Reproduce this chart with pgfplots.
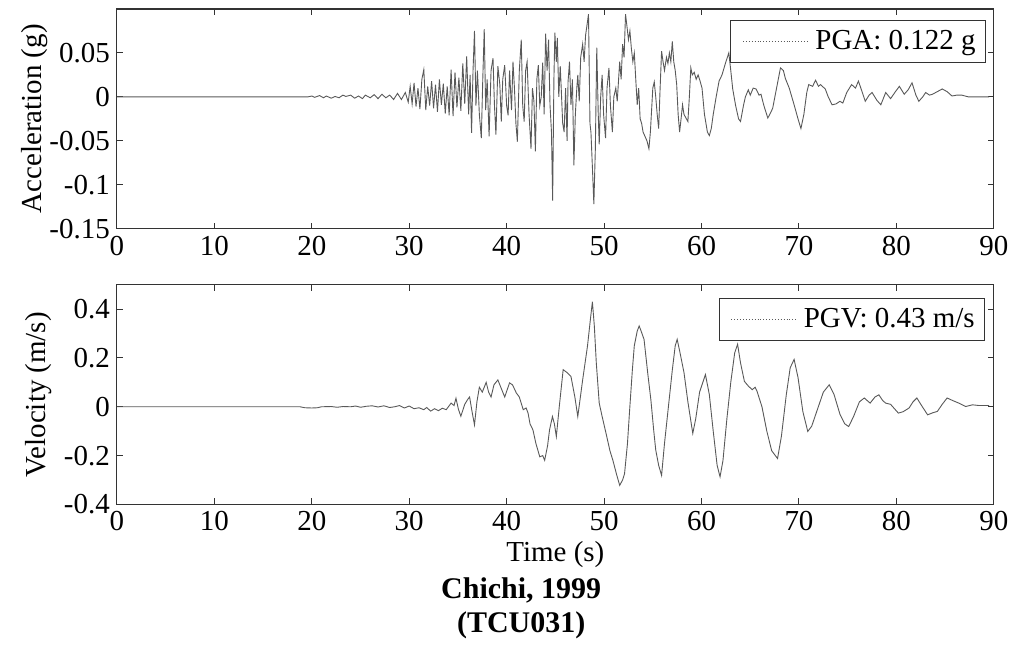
\documentclass[border=0pt]{standalone}
\usepackage{fontspec}
\setmainfont{Liberation Serif}
\usepackage{pgfplots}
\pgfplotsset{compat=1.18}
\pgfplotstableread{
t a
0 0
19.6 0
20.0 0.001
20.3 -0.0005
20.8 0.0015
21.2 -0.001
21.5 0.001
22.0 -0.0015
22.4 0.0005
22.8 -0.001
23.2 0.002
23.5 0.0005
24.0 0.002
24.4 -0.0015
24.8 0.001
25.2 -0.002
25.5 0.002
26.0 -0.001
26.4 0.0025
26.8 -0.002
27.2 0.003
27.6 -0.001
28.0 0.002
28.4 -0.003
28.8 0.004
29.2 -0.003
29.6 0.005
29.9 -0.006
30.1 0.012
30.3 -0.008
30.5 0.016
30.7 -0.011
30.9 0.010
31.1 -0.014
31.3 0.020
31.5 0.031
31.7 -0.015
31.9 0.012
32.1 -0.010
32.3 0.018
32.5 -0.013
32.7 0.014
32.9 -0.017
33.1 0.020
33.3 -0.009
33.5 0.015
33.7 -0.019
33.9 0.012
34.1 -0.021
34.3 0.031
34.5 -0.022
34.7 0.028
34.9 -0.012
35.1 0.022
35.3 -0.016
35.5 0.038
35.7 -0.008
35.9 0.046
36.1 -0.020
36.25 0.025
36.4 -0.041
36.55 0.030
36.7 0.075
36.85 -0.010
37.0 0.030
37.2 -0.020
37.4 -0.047
37.55 0.020
37.7 0.077
37.85 -0.015
38.0 0.020
38.2 -0.045
38.4 0.030
38.6 0.044
38.75 -0.010
38.9 -0.043
39.1 0.035
39.3 0.014
39.45 -0.028
39.6 0.020
39.8 0.036
40.0 -0.010
40.15 -0.021
40.3 0.030
40.5 -0.015
40.65 0.040
40.8 0.010
40.95 -0.030
41.1 -0.051
41.3 0.030
41.5 0.065
41.65 -0.010
41.8 -0.028
41.95 0.030
42.1 0.040
42.3 -0.020
42.5 -0.059
42.65 0.010
42.8 -0.005
42.95 -0.062
43.1 0.020
43.25 0.036
43.4 -0.010
43.55 0.000
43.7 0.039
43.85 -0.020
44.0 0.072
44.15 0.030
44.3 0.065
44.45 -0.009
44.6 -0.040
44.72 -0.118
44.85 0.020
44.95 0.073
45.1 0.040
45.2 0.067
45.35 0.000
45.5 0.035
45.6 0.010
45.75 -0.030
45.9 -0.040
46.05 0.010
46.2 -0.050
46.3 0.017
46.45 0.040
46.6 -0.009
46.75 0.020
46.9 -0.078
47.05 -0.020
47.2 0.010
47.3 0.025
47.45 -0.005
47.6 0.045
47.8 0.060
47.95 0.040
48.1 0.070
48.25 0.082
48.4 0.094
48.55 -0.030
48.65 -0.040
48.8 -0.080
48.95 -0.122
49.1 -0.060
49.25 0.056
49.4 -0.020
49.5 -0.054
49.65 0.000
49.8 0.025
49.95 -0.020
50.15 -0.047
50.3 0.010
50.5 0.033
50.65 -0.010
50.85 -0.040
51.0 0.000
51.2 0.010
51.35 -0.005
51.6 0.040
51.75 0.020
51.9 0.060
52.05 0.045
52.2 0.094
52.35 0.080
52.5 0.065
52.65 0.075
52.8 0.055
52.95 0.040
53.1 0.050
53.25 0.020
53.4 -0.009
53.55 0.010
53.7 -0.025
53.85 -0.030
54.0 -0.040
54.2 -0.045
54.4 -0.050
54.6 -0.059
54.75 -0.040
54.9 -0.010
55.0 0.010
55.15 0.017
55.3 0.000
55.45 -0.020
55.6 -0.036
55.75 0.010
55.9 0.052
56.05 0.040
56.2 0.030
56.4 0.045
56.55 0.038
56.7 0.050
56.85 0.040
57.0 0.063
57.15 0.040
57.3 0.030
57.45 0.014
57.6 -0.020
57.75 -0.040
57.9 -0.025
58.05 -0.009
58.2 -0.020
58.4 -0.024
58.6 -0.028
58.75 0.000
58.9 0.033
59.05 0.025
59.25 0.028
59.45 0.020
59.65 0.025
59.85 0.018
60.05 0.010
60.3 -0.020
60.6 -0.040
60.8 -0.044
61.0 -0.036
61.2 -0.020
61.5 0.000
61.8 0.018
62.1 0.025
62.5 0.040
62.8 0.050
63.0 0.030
63.2 0.009
63.5 -0.010
63.8 -0.025
64.0 -0.028
64.3 -0.010
64.5 0.000
64.8 0.008
65.0 0.002
65.3 0.010
65.6 0.009
65.9 0.002
66.1 0.003
66.4 -0.010
66.8 -0.024
67.0 -0.020
67.3 -0.013
67.7 0.010
68.1 0.033
68.4 0.030
68.6 0.021
69.0 0.010
69.5 -0.009
69.9 -0.025
70.2 -0.036
70.5 -0.020
70.8 0.005
71.0 0.014
71.4 0.012
71.7 0.019
72.0 0.012
72.2 0.014
72.7 0.009
73.0 0.000
73.4 -0.009
73.8 -0.008
74.2 -0.005
74.5 -0.007
74.9 0.005
75.4 0.014
75.8 0.010
76.1 0.018
76.5 0.005
76.8 -0.005
77.2 0.002
77.5 0.005
78.0 -0.004
78.4 -0.009
78.9 0.005
79.4 -0.002
79.9 0.006
80.3 0.012
80.8 0.003
81.2 0.008
81.6 0.016
82.0 0.002
82.3 -0.005
82.7 0.000
83.0 0.005
83.4 0.002
83.7 0.003
84.2 0.006
84.7 0.009
85.2 0.006
85.7 0.001
86.2 0.002
86.7 0.002
87.4 0.000
88.5 0.000
89.5 0.000
}\acctable
\pgfplotstableread{
t v
0 0
18.8 0
19.3 -0.004
20.0 -0.005
20.6 -0.004
21.0 0
22.0 0.001
22.6 -0.002
23.2 0.001
24.0 0.000
24.5 0.003
25.0 -0.002
25.6 0.002
26.2 0.004
26.8 -0.001
27.4 0.004
28.0 -0.003
28.5 0.000
29.0 0.005
29.5 -0.005
30.0 0.003
30.5 -0.008
31.0 -0.004
31.5 -0.012
31.8 -0.003
32.2 -0.018
32.6 -0.008
33.0 -0.016
33.4 -0.006
33.8 -0.012
34.3 0.015
34.6 0.005
34.8 0.035
35.05 -0.010
35.3 -0.039
35.7 0.010
36.0 0.030
36.2 0.040
36.45 -0.020
36.7 -0.074
36.95 0.020
37.2 0.080
37.5 0.060
37.9 0.100
38.15 0.060
38.4 0.040
38.7 0.090
39.1 0.110
39.4 0.080
39.8 0.040
40.3 0.098
40.6 0.090
41.0 0.056
41.3 0.040
41.7 -0.012
42.0 -0.005
42.2 -0.026
42.4 -0.070
42.7 -0.095
43.0 -0.150
43.4 -0.205
43.7 -0.200
43.9 -0.219
44.2 -0.160
44.4 -0.095
44.7 -0.040
44.9 -0.070
45.1 -0.122
45.4 0.000
45.8 0.152
46.2 0.140
46.6 0.124
47.0 0.040
47.3 -0.040
47.8 0.110
48.3 0.250
48.6 0.360
48.8 0.430
49.0 0.330
49.2 0.180
49.5 0.015
49.8 -0.040
50.2 -0.109
50.6 -0.180
50.9 -0.219
51.3 -0.280
51.6 -0.322
51.9 -0.300
52.1 -0.274
52.4 -0.150
52.6 -0.026
52.9 0.150
53.1 0.250
53.4 0.310
53.6 0.331
53.8 0.310
54.1 0.276
54.5 0.130
54.8 0.029
55.1 -0.100
55.3 -0.177
55.6 -0.240
55.9 -0.281
56.2 -0.150
56.6 0.000
57.0 0.150
57.3 0.250
57.5 0.276
57.8 0.220
58.2 0.140
58.6 0.020
59.1 -0.109
59.4 -0.050
59.8 0.060
60.4 0.132
60.8 0.050
61.2 -0.100
61.6 -0.240
61.9 -0.287
62.2 -0.220
62.6 -0.050
63.0 0.100
63.4 0.220
63.7 0.256
64.0 0.180
64.4 0.104
64.8 0.085
65.2 0.070
65.5 0.080
65.7 0.063
66.2 0.000
66.7 -0.100
67.2 -0.180
67.8 -0.212
68.2 -0.120
68.7 0.050
69.1 0.160
69.5 0.194
69.9 0.120
70.4 -0.020
70.9 -0.101
71.3 -0.080
71.9 -0.010
72.5 0.060
73.1 0.090
73.6 0.050
74.2 -0.030
74.7 -0.070
75.1 -0.081
75.6 -0.040
76.2 0.020
76.7 0.036
77.3 0.015
77.8 0.040
78.2 0.049
78.6 0.025
78.9 0.015
79.4 0.010
80.2 -0.026
80.7 -0.020
81.3 -0.005
81.7 0.020
82.1 0.036
82.5 0.010
83.2 -0.033
83.7 -0.025
84.2 -0.019
84.7 0.010
85.2 0.036
85.8 0.025
86.4 0.015
87.1 0.001
87.8 0.008
88.5 0.005
89.5 0.005
}\veltable
\begin{document}
\begin{tikzpicture}
\pgfplotsset{
  every axis/.append style={
    font=\fontsize{14.5}{17}\selectfont,
    scale only axis, width=439pt, height=110pt,
    xmin=0, xmax=90,
    clip mode=individual,
    xtick={0,10,20,30,40,50,60,70,80,90},
    xticklabels={0,10,20,30,40,50,60,70,80,90},
    tick align=inside, major tick length=3pt,
    tick style={black!80, line width=0.5pt},
    axis line style={black!80, line width=0.6pt},
    legend cell align=left,
    legend image code/.code={\path (-5pt,0pt); \draw[#1, densely dotted] (0pt,0pt) -- (32pt,0pt);},
  },
}
\begin{axis}[
  at={(0,0)},
  ymin=-0.15, ymax=0.1,
  ytick={-0.15,-0.1,-0.05,0,0.05},
  yticklabels={-0.15,-0.1,-0.05,0,0.05},
  ylabel={Acceleration (g)},
  ylabel style={at={(axis description cs:-0.0854,0.5)}, anchor=base},
  legend style={at={(0.991,0.95)}, anchor=north east, draw=black!80, fill=white,
    inner sep=1pt, nodes={inner sep=4pt}},
]
\addplot[black!65, line width=0.45pt] table[x=t, y=a] {\acctable};
\addlegendentry{PGA: 0.122 g}
\end{axis}
\begin{axis}[
  at={(0,-138pt)},
  ymin=-0.4, ymax=0.5,
  ytick={-0.4,-0.2,0,0.2,0.4},
  yticklabels={-0.4,-0.2,0,0.2,0.4},
  ylabel={Velocity (m/s)},
  ylabel style={at={(axis description cs:-0.0809,0.5)}, anchor=base},
  xlabel={Time (s)},
  xlabel style={at={(axis description cs:0.5,-0.262)}, anchor=base},
  legend style={at={(0.99,0.941)}, anchor=north east, draw=black!80, fill=white,
    inner sep=1pt, nodes={inner sep=4pt}},
]
\addplot[black!65, line width=0.45pt] table[x=t, y=v] {\veltable};
\addlegendentry{PGV: 0.43 m/s}
\node[anchor=base, font=\fontsize{15}{17}\selectfont\bfseries] at (axis description cs:0.461,-0.43) {Chichi, 1999};
\node[anchor=base, font=\fontsize{15}{17}\selectfont\bfseries] at (axis description cs:0.461,-0.584) {(TCU031)};
\end{axis}
\path[use as bounding box] (-58.5pt,-211.5pt) rectangle (449pt,114.5pt);
\end{tikzpicture}
\end{document}
